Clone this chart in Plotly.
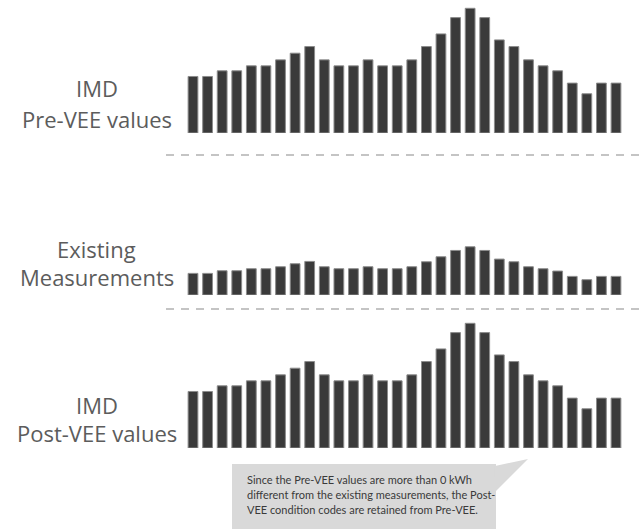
import plotly.graph_objects as go

W, H = 644, 529

hours = list(range(1, 31))
pre_vee = [1.70, 1.70, 1.87, 1.87, 2.02, 2.02, 2.20, 2.40, 2.60, 2.20,
           2.02, 2.02, 2.20, 2.02, 2.02, 2.20, 2.60, 2.98, 3.47, 3.75,
           3.47, 2.80, 2.60, 2.20, 2.02, 1.87, 1.50, 1.18, 1.50, 1.50]
existing = [0.65, 0.65, 0.73, 0.73, 0.79, 0.79, 0.85, 0.94, 1.01, 0.85,
            0.79, 0.79, 0.85, 0.79, 0.79, 0.85, 1.00, 1.15, 1.34, 1.45,
            1.34, 1.08, 1.00, 0.85, 0.79, 0.72, 0.56, 0.46, 0.56, 0.56]
post_vee = [1.70, 1.70, 1.87, 1.87, 2.02, 2.02, 2.20, 2.40, 2.60, 2.20,
            2.02, 2.02, 2.20, 2.02, 2.02, 2.20, 2.60, 2.98, 3.47, 3.75,
            3.47, 2.80, 2.60, 2.20, 2.02, 1.87, 1.50, 1.18, 1.50, 1.50]

panel_labels = [("IMD", "Pre-VEE values"), ("Existing", "Measurements"), ("IMD", "Post-VEE values")]
callout_lines = ["Since the Pre-VEE values are more than 0 kWh",
                 "different from the existing measurements, the Post-",
                 "VEE condition codes are retained from Pre-VEE."]


def py(p):
    return 1 - p / H


def px(p):
    return p / W


BAR = "#3a3a3a"
EDGE = "#8c8c8c"
TXT = "#5c5c5c"

fig = go.Figure()
series = [pre_vee, existing, post_vee]
axes = [("x", "y"), ("x2", "y2"), ("x3", "y3")]
for vals, (xa, ya) in zip(series, axes):
    fig.add_trace(go.Bar(x=hours, y=vals, xaxis=xa, yaxis=ya,
                         marker=dict(color=BAR, line=dict(color=EDGE, width=1)),
                         showlegend=False, hoverinfo="skip"))

xdom = [px(185.7), px(623.3)]
ydoms = [(0, 133), (162, 295), (315, 448)]
layout_axes = {}
for i, (top, bot) in enumerate(ydoms):
    sfx = "" if i == 0 else str(i + 1)
    layout_axes["xaxis" + sfx] = dict(domain=xdom, range=[0.5, 30.5], visible=False,
                                      anchor="y" + sfx, fixedrange=True)
    layout_axes["yaxis" + sfx] = dict(domain=[py(bot), py(top)], range=[0, 4], visible=False,
                                      anchor="x" + sfx, fixedrange=True)

fig.update_layout(width=W, height=H, margin=dict(l=0, r=0, t=0, b=0),
                  paper_bgcolor="white", plot_bgcolor="rgba(0,0,0,0)",
                  bargap=0.33, **layout_axes)

# dashed separators
for yy in (155, 309):
    fig.add_shape(type="line", xref="paper", yref="paper",
                  x0=px(166), x1=1.0, y0=py(yy), y1=py(yy),
                  line=dict(color="#c4c4c4", width=2, dash="8px,7px"))

# panel labels
label_pos = [(88.5, 118.5), (249.5, 276.5), (404.5, 433)]
for (l1, l2), (y1, y2) in zip(panel_labels, label_pos):
    for txt, yy in ((l1, y1), (l2, y2)):
        fig.add_annotation(text=txt, xref="paper", yref="paper", x=px(96.5), y=py(yy),
                           xanchor="center", yanchor="middle", showarrow=False,
                           font=dict(family="Open Sans", size=22, color=TXT))

# callout box with pointer
BOX = "#d9d9d9"
fig.add_shape(type="rect", xref="paper", yref="paper",
              x0=px(232), x1=px(496), y0=py(529), y1=py(464),
              fillcolor=BOX, line=dict(width=0), layer="below")
p = f"M {px(495):.4f},{py(466):.4f} L {px(528):.4f},{py(459):.4f} L {px(495):.4f},{py(492):.4f} Z"
fig.add_shape(type="path", xref="paper", yref="paper", path=p,
              fillcolor=BOX, line=dict(width=0), layer="below")
for txt, yy in zip(callout_lines, (479, 494, 509)):
    fig.add_annotation(text=txt, xref="paper", yref="paper",
                       x=px(245), y=py(yy), xanchor="left", yanchor="middle",
                       align="left", showarrow=False,
                       font=dict(family="Lato", size=11, color="#3a3a3a"))

fig.write_html("out.html", post_script="document.body.style.margin='0';",
               config={"displayModeBar": False})
